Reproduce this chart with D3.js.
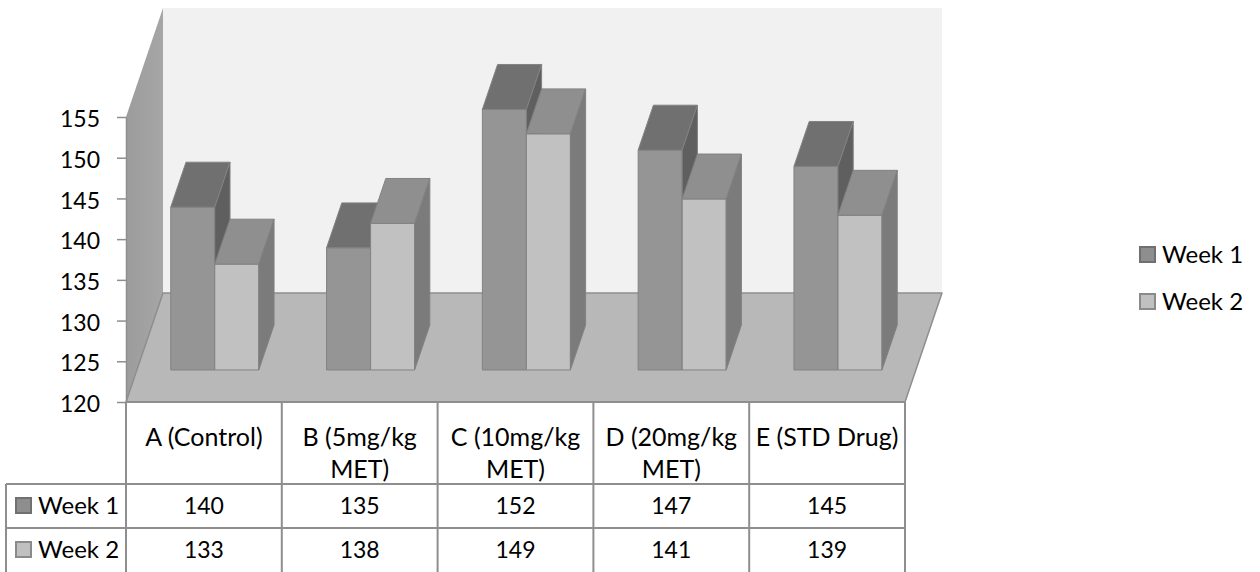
<!DOCTYPE html>
<html>
<head>
<meta charset="utf-8">
<script src="https://cdn.jsdelivr.net/npm/d3@7"></script>
<style>
  html, body { margin: 0; padding: 0; background: #fff; }
  svg { display: block; }
  text { font-family: "Lato", "Open Sans", sans-serif; fill: #000; }
</style>
</head>
<body>
<svg id="chart" width="1260" height="572"></svg>
<script>
// ---- data ----
const categories = ["A (Control)", "B (5mg/kg MET)", "C (10mg/kg MET)", "D (20mg/kg MET)", "E (STD Drug)"];
const categoryLines = [["A (Control)"], ["B (5mg/kg", "MET)"], ["C (10mg/kg", "MET)"], ["D (20mg/kg", "MET)"], ["E (STD Drug)"]];
const seriesNames = ["Week 1", "Week 2"];
const week1 = [140, 135, 152, 147, 145];
const week2 = [133, 138, 149, 141, 139];
const yTicks = [120, 125, 130, 135, 140, 145, 150, 155];

// ---- styles ----
const colors = {
  "Week 1": { front: "#959595", top: "#707070", side: "#5f5f5f", legend: "#8e8e8e", legendStroke: "#707070" },
  "Week 2": { front: "#c1c1c1", top: "#8f8f8f", side: "#7b7b7b", legend: "#c0c0c0", legendStroke: "#8a8a8a" }
};
const edge = "#828282";
const gridLine = "#8e8e8e";

const svg = d3.select("#chart");

// ---- layout ----
const left = 126, right = 905, floorY = 402;
const DX = 37, DY = -109;          // depth vector (front -> back)
const z0 = 0.294, z1 = 0.706;       // bar depth range

const x = d3.scaleBand().domain(categories).range([left, right]).padding(0);
const y = d3.scaleLinear().domain([120, 155]).range([floorY, 117]);
const bw = x.bandwidth();
const groupW = bw * 0.565;
const xs = d3.scaleBand().domain(seriesNames).range([(bw - groupW) / 2, (bw + groupW) / 2]).padding(0);

const P = (xf, v, z) => [xf + z * DX, y(v) + z * DY];
const poly = pts => pts.map(p => p.join(",")).join(" ");

// ---- walls ----
const vMin = 120, vMax = 155;
svg.append("polygon")
  .attr("points", poly([P(left, vMin, 1), P(right, vMin, 1), P(right, vMax, 1), P(left, vMax, 1)]))
  .attr("fill", "#f1f1f1");
const defs = svg.append("defs");
const lg = defs.append("linearGradient").attr("id", "sideWall").attr("x1", "0").attr("x2", "1").attr("y1", "0").attr("y2", "0");
lg.append("stop").attr("offset", "0").attr("stop-color", "#9c9c9c");
lg.append("stop").attr("offset", "1").attr("stop-color", "#a6a6a6");
svg.append("polygon")
  .attr("points", poly([P(left, vMin, 0), P(left, vMin, 1), P(left, vMax, 1), P(left, vMax, 0)]))
  .attr("fill", "url(#sideWall)");
svg.append("polygon")
  .attr("points", poly([P(left, vMin, 0), P(right, vMin, 0), P(right, vMin, 1), P(left, vMin, 1)]))
  .attr("fill", "#b8b8b8")
  .attr("stroke", gridLine).attr("stroke-width", 1.5).attr("stroke-linejoin", "round");

// ---- bars ----
const data = [];
categories.forEach((c, i) => {
  data.push({ c, s: "Week 1", v: week1[i] });
  data.push({ c, s: "Week 2", v: week2[i] });
});
const gBars = svg.append("g");
data.forEach(d => {
  const xl = x(d.c) + xs(d.s);
  const xr = xl + xs.bandwidth();
  const col = colors[d.s];
  gBars.append("polygon")
    .attr("points", poly([P(xl, vMin, z0), P(xr, vMin, z0), P(xr, d.v, z0), P(xl, d.v, z0)]))
    .attr("fill", col.front).attr("stroke", edge).attr("stroke-width", 1);
  gBars.append("polygon")
    .attr("points", poly([P(xl, d.v, z0), P(xr, d.v, z0), P(xr, d.v, z1), P(xl, d.v, z1)]))
    .attr("fill", col.top).attr("stroke", edge).attr("stroke-width", 1);
  gBars.append("polygon")
    .attr("points", poly([P(xr, vMin, z0), P(xr, vMin, z1), P(xr, d.v, z1), P(xr, d.v, z0)]))
    .attr("fill", col.side).attr("stroke", edge).attr("stroke-width", 1);
});

// ---- value axis ----
const axis = d3.axisLeft(y).tickValues(yTicks).tickSize(9).tickSizeOuter(0).tickPadding(17);
const gAxis = svg.append("g").attr("transform", `translate(${left},0)`).call(axis);
gAxis.select(".domain").attr("stroke", gridLine).attr("stroke-width", 1.5);
gAxis.selectAll(".tick line").attr("stroke", gridLine).attr("stroke-width", 1.5);
gAxis.selectAll(".tick text")
  .attr("font-family", "Lato, 'Open Sans', sans-serif")
  .attr("font-size", 23).attr("fill", "#000").attr("dy", "0.42em");

// ---- data table ----
const rowTop = floorY, rowH1 = 484, rowH2 = 528, rowBottom = 573;
const labelLeft = 6;
const gT = svg.append("g").attr("stroke", gridLine).attr("stroke-width", 2);
gT.append("line").attr("x1", left).attr("x2", right).attr("y1", rowTop).attr("y2", rowTop);
gT.append("line").attr("x1", labelLeft).attr("x2", right).attr("y1", rowH1).attr("y2", rowH1);
gT.append("line").attr("x1", labelLeft).attr("x2", right).attr("y1", rowH2).attr("y2", rowH2);
categories.forEach(c => {
  gT.append("line").attr("x1", x(c)).attr("x2", x(c)).attr("y1", rowTop).attr("y2", rowBottom);
});
gT.append("line").attr("x1", right).attr("x2", right).attr("y1", rowTop).attr("y2", rowBottom);
gT.append("line").attr("x1", labelLeft).attr("x2", labelLeft).attr("y1", rowH1).attr("y2", rowBottom);

const fsHead = 25, fsLabel = 24, fsNum = 23;
categories.forEach((c, i) => {
  const cx = x(c) + bw / 2;
  categoryLines[i].forEach((ln, k) => {
    svg.append("text").attr("x", cx).attr("y", 446 + k * 32)
      .attr("text-anchor", "middle").attr("font-size", fsHead).text(ln);
  });
});
const rows = [{ name: "Week 1", vals: week1, base: 514 }, { name: "Week 2", vals: week2, base: 558 }];
rows.forEach(r => {
  svg.append("rect").attr("x", 16).attr("y", r.base - 16).attr("width", 15).attr("height", 15)
    .attr("fill", colors[r.name].legend).attr("stroke", colors[r.name].legendStroke).attr("stroke-width", 2);
  svg.append("text").attr("x", 38).attr("y", r.base).attr("font-size", fsLabel).text(r.name);
  r.vals.forEach((v, i) => {
    svg.append("text").attr("x", x(categories[i]) + bw / 2).attr("y", r.base)
      .attr("text-anchor", "middle").attr("font-size", fsNum).text(v);
  });
});

// ---- legend ----
seriesNames.forEach((s, k) => {
  const base = 263 + k * 47;
  svg.append("rect").attr("x", 1140).attr("y", base - 16).attr("width", 15).attr("height", 15)
    .attr("fill", colors[s].legend).attr("stroke", colors[s].legendStroke).attr("stroke-width", 2);
  svg.append("text").attr("x", 1162).attr("y", base).attr("font-size", fsLabel).text(s);
});
</script>
</body>
</html>
